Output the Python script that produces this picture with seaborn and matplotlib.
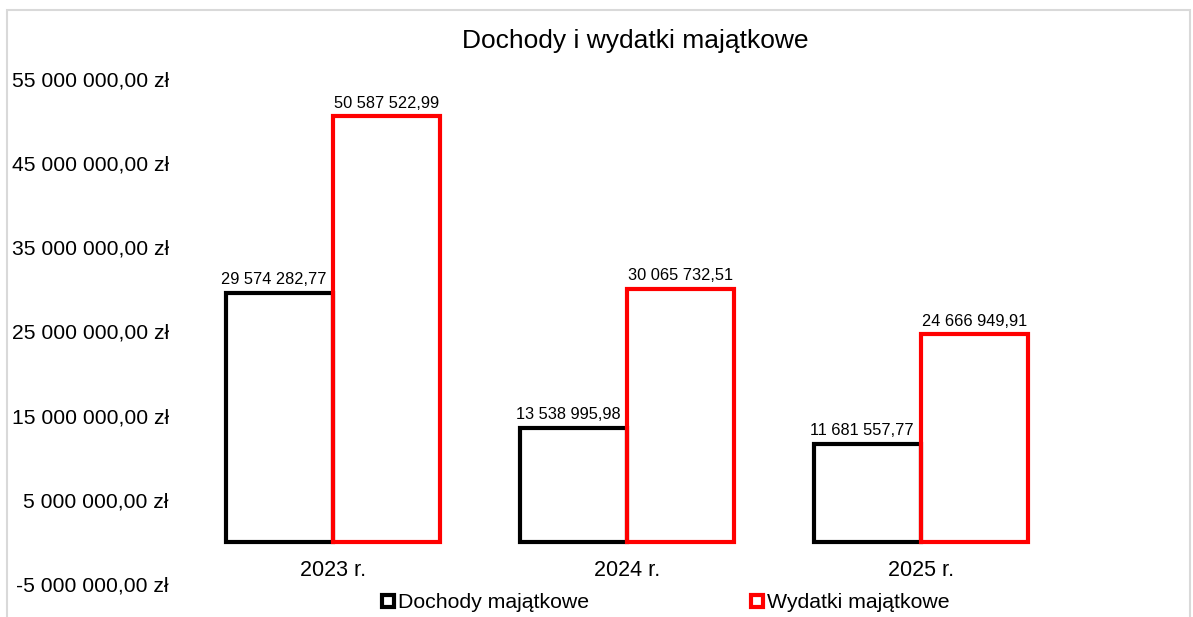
import pandas as pd
import seaborn as sns
import matplotlib.pyplot as plt
from matplotlib.patches import Patch, Rectangle
from matplotlib.ticker import FuncFormatter
import numpy as np

# dane
lata = ["2023 r.", "2024 r.", "2025 r."]
dochody = [29574282.77, 13538995.98, 11681557.77]
wydatki = [50587522.99, 30065732.51, 24666949.91]
serie = ["Dochody majątkowe", "Wydatki majątkowe"]
kolory = ["#000000", "#ff0000"]

df = pd.DataFrame({
    "rok": lata * 2,
    "wartosc": dochody + wydatki,
    "seria": [serie[0]] * 3 + [serie[1]] * 3,
})


def pl_num(v):
    return f"{v:,.2f}".replace(",", " ").replace(".", ",")


sns.set_style("white")
plt.rcParams["font.family"] = ["Liberation Sans", "DejaVu Sans"]
plt.rcParams["text.color"] = "black"
plt.rcParams["xtick.color"] = "black"
plt.rcParams["ytick.color"] = "black"

fig = plt.figure(figsize=(11.93, 6.17), dpi=100)
ax = fig.add_axes([186 / 1193, 1 - 584 / 617, (1068 - 186) / 1193, (584 - 79) / 617])

sns.barplot(data=df, x="rok", y="wartosc", hue="seria", hue_order=serie,
            palette=kolory, fill=False, linewidth=3, width=0.728, gap=0,
            errorbar=None, ax=ax)
ax.get_legend().remove()

# etykiety wartosci (dochody lekko przesuniete w lewo jak w Excelu)
for i, cont in enumerate(ax.containers):
    etyk = ax.bar_label(cont, labels=[pl_num(b.get_height()) for b in cont],
                        padding=4, fontsize=11.8, color="black")
    if i == 0:
        for e in etyk:
            e.xyann = (-4, 4)

ax.set_ylim(-5e6, 55e6)
ax.set_xlim(-0.5, 2.5)
ax.set_yticks(np.arange(-5e6, 55e6 + 1, 10e6))
ax.yaxis.set_major_formatter(FuncFormatter(lambda v, p: pl_num(v) + " zł"))
ax.tick_params(axis="y", length=0, labelsize=15.2, pad=12.5)
ax.tick_params(axis="x", length=0, labelsize=15.5, pad=13)
ax.spines["bottom"].set_position(("data", 0))
for s in ax.spines.values():
    s.set_visible(False)
ax.set_xlabel("")
ax.set_ylabel("")

fig.text(635 / 1193, 1 - 41 / 617, "Dochody i wydatki majątkowe",
         ha="center", va="center", fontsize=19)

uchwyty = [Patch(facecolor="white", edgecolor=c, linewidth=3, label=s)
           for c, s in zip(kolory, serie)]
fig.legend(handles=uchwyty, loc="center", bbox_to_anchor=(666 / 1193, 1 - 603 / 617),
           ncol=2, frameon=False, fontsize=15.3, handlelength=0.55, handleheight=0.55,
           handletextpad=0.2, columnspacing=7.6, borderaxespad=0)

fig.patches.append(Rectangle((7 / 1193, -0.1), 1183 / 1193, 1.1 - 10 / 617,
                             transform=fig.transFigure, fill=False,
                             edgecolor="#d9d9d9", linewidth=1.5))

fig.savefig("out.png", dpi=100)
